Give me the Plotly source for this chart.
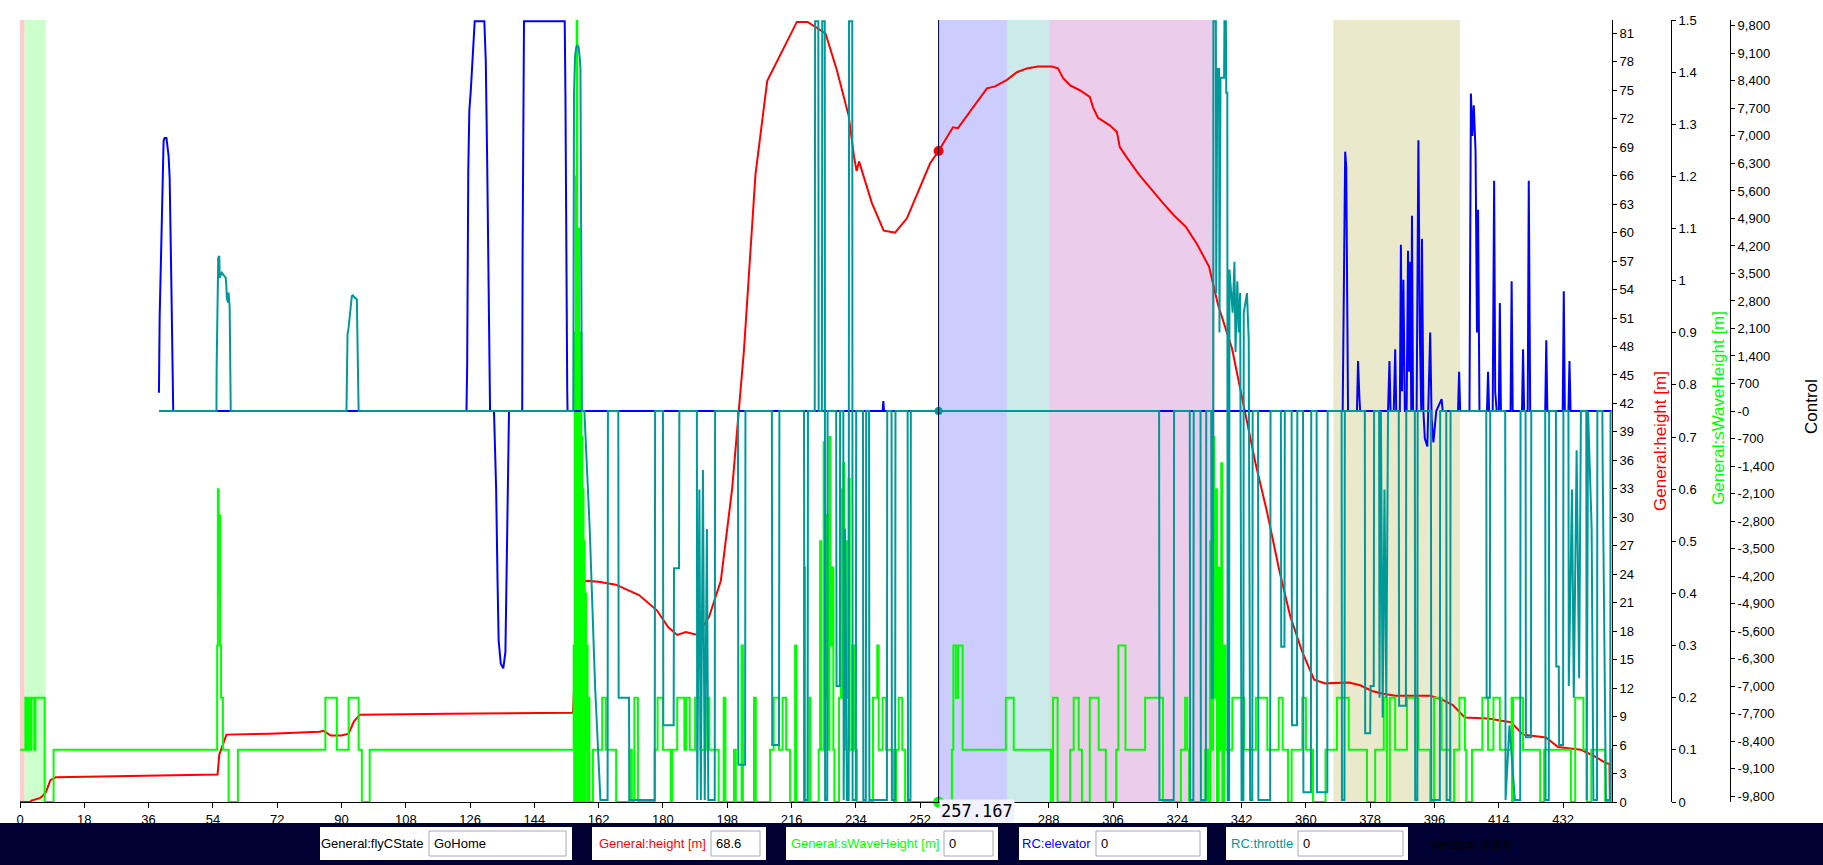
import plotly.graph_objects as go

# ---------------- data ----------------
x_ticks = list(range(0, 433, 18))
height_ticks = list(range(0, 82, 3))
wave_ticks = [i / 10 for i in range(16)]
control_ticks = list(range(-9800, 9801, 700))

cursor_t = 257.167
cursor_height = 68.6
cursor_wave = 0
cursor_elevator = 0
cursor_throttle = 0
fly_state = "GoHome"

# flyCState bands: (start, end, colour)
state_bands = [
    (0.0, 1.3, "#ffcccc"),
    (1.3, 7.2, "#ccffcc"),
    (257.167, 276.3, "#ccccff"),
    (276.3, 288.1, "#cceaea"),
    (288.1, 334.6, "#ebcdeb"),
    (367.7, 403.2, "#eae9cc"),
]

height_pts = [
    (0, 0), (2.8, 0), (3.2, 0.15), (4.6, 0.3), (5.5, 0.4), (6.4, 0.66), (6.9, 0.84), (7.2, 1.0),
    (7.8, 1.6), (8.5, 2.3), (10, 2.6), (30, 2.7), (50, 2.8), (55.3, 2.9), (55.8, 5.0), (57.8, 7.1),
    (70, 7.2), (83.8, 7.4), (85, 7.5), (87, 7.0), (90, 7.0), (92, 7.2), (93.5, 8.5), (95.2, 9.2),
    (120, 9.3), (154.8, 9.4), (155.5, 15.0), (157.0, 23.0), (158.7, 23.3), (162, 23.2), (166.8, 22.9),
    (170, 22.4), (173.3, 21.8), (178.3, 20.2), (181.5, 18.4), (184, 17.6), (186.4, 17.9), (189.7, 17.6),
    (192.9, 19.5), (196.2, 23.3), (199.4, 33.1), (202.7, 47.7), (205.9, 66.1), (209.2, 76.0),
    (214.1, 79.6), (217.5, 82.2), (220.5, 82.2), (225.5, 81.0), (228.7, 77.1), (232.0, 72.3),
    (233.5, 68.0), (234.2, 66.5), (234.9, 67.5), (236.5, 65.5), (238.5, 63.1), (241.8, 60.2),
    (245.0, 60.0), (248.3, 61.5), (251.5, 64.3), (254.8, 67.3), (257.167, 68.6), (261.2, 71.1),
    (262.6, 71.0), (266.2, 72.9), (270.7, 75.2), (273.0, 75.4), (276.3, 76.1), (279.1, 76.9),
    (281.9, 77.3), (285.0, 77.5), (288.9, 77.5), (290.6, 77.3), (292.0, 76.3), (294.0, 75.5),
    (296.7, 75.0), (299.5, 74.3), (300.4, 73.2), (301.8, 72.1), (305.1, 71.3), (307.1, 70.6),
    (307.9, 69.0), (309.9, 67.9), (313.3, 66.1), (320.0, 63.1), (323.1, 61.8), (326.4, 60.6),
    (329.5, 58.8), (332.9, 56.4), (335.4, 52.4), (339.3, 47.8), (342.7, 41.6), (346.0, 35.5),
    (349.1, 30.6), (352.5, 24.5), (355.6, 19.6), (358.9, 15.9), (362.3, 12.9), (365.4, 12.5),
    (372.1, 12.6), (375.2, 12.3), (378.5, 11.7), (381.6, 11.4), (385.0, 11.2), (394.8, 11.2),
    (398.1, 10.8), (401.2, 10.2), (404.5, 8.9), (411.0, 8.8), (417.4, 8.4), (420.8, 7.1),
    (427.2, 6.8), (430.6, 5.8), (437.0, 5.5), (440.4, 4.9), (444.0, 4.1), (445.0, 4.0), (445.1, 0),
]

wave_pts = [
    (0, 0.1), (1.5, 0.2), (2.0, 0.1), (2.3, 0.2), (2.9, 0.1), (3.2, 0.2), (4.0, 0.1), (4.3, 0.2),
    (6.9, 0), (9.4, 0.1), (55.2, 0.3), (55.4, 0.6), (55.6, 0.4), (55.8, 0.55), (56.0, 0.3),
    (56.3, 0.2), (56.8, 0.1), (58.4, 0), (61.0, 0.1), (85.5, 0.2), (88.7, 0.1), (92.0, 0.2),
    (94.8, 0.1), (95.7, 0), (97.9, 0.1),
    (155.0, 0.3), (155.15, 0.0), (155.3, 0.9), (155.45, 0.1), (155.6, 1.2), (155.75, 0.0),
    (155.85, 1.5), (156.0, 0.2), (156.1, 0.8), (156.25, 0.0), (156.4, 1.1), (156.55, 0.1),
    (156.7, 0.75), (156.85, 0.0), (157.0, 0.9), (157.15, 0.1), (157.3, 0.7), (157.45, 0.0),
    (157.6, 0.6), (157.75, 0.1), (157.9, 0.5), (158.1, 0.0), (158.3, 0.4), (158.5, 0.1),
    (158.7, 0.3), (158.9, 0.0), (159.1, 0.2), (159.4, 0.0), (160.4, 0.1),
    (163.0, 0.2), (164.0, 0.1), (166.9, 0), (170.7, 0.1), (171.3, 0), (172.0, 0.2), (173.0, 0),
    (177.7, 0.1), (178.5, 0.2), (180.0, 0.1), (182.2, 0), (182.6, 0.1), (184.0, 0.2), (186.0, 0.1),
    (186.5, 0.2), (187.5, 0.1), (189.0, 0.2), (190.5, 0.1), (192.0, 0.2), (193.0, 0.1), (195.6, 0),
    (197.0, 0.2), (197.5, 0), (199.9, 0.1), (200.4, 0), (202.0, 0.3), (202.4, 0), (205.5, 0.2),
    (206.0, 0), (210.0, 0.1), (211.0, 0.2), (212.5, 0.1), (213.5, 0.2), (214.5, 0.1), (215.6, 0),
    (217.0, 0.3), (217.4, 0), (219.5, 0.45), (219.8, 0), (221.0, 0.2), (221.3, 0), (223.6, 0.1),
    (224.0, 0.5), (224.3, 0.1), (225.0, 0.69), (225.3, 0.2), (225.8, 0.55), (226.1, 0.1),
    (226.6, 0.7), (226.9, 0.3), (227.4, 0.45), (227.7, 0.1), (228.0, 0), (229.3, 0.2), (229.8, 0.6),
    (230.1, 0.2), (230.5, 0.65), (230.8, 0.1), (231.2, 0.5), (231.5, 0.2), (232.0, 0.62),
    (232.3, 0.1), (233.0, 0.3), (233.5, 0.1), (234.3, 0), (238.8, 0.2), (240.0, 0.3), (240.4, 0.1),
    (241.5, 0.2), (242.5, 0.1), (244.6, 0), (245.3, 0.1), (246.0, 0.2), (247.0, 0.1), (247.8, 0),
    (260.9, 0.1), (261.3, 0.3), (262.0, 0.2), (262.6, 0.3), (263.9, 0.1), (276.0, 0.2), (278.2, 0.1),
    (288.6, 0), (289.2, 0.2), (290.5, 0), (294.0, 0.1), (295.0, 0.2), (296.4, 0.1), (297.3, 0),
    (299.5, 0.2), (302.0, 0.1), (304.0, 0), (306.9, 0.1), (307.5, 0.3), (309.5, 0.1), (315.0, 0.2),
    (320.0, 0), (325.0, 0.1), (326.2, 0.2), (326.8, 0.1), (327.3, 0), (331.8, 0.1), (332.6, 0),
    (333.2, 0.5), (333.5, 0.1), (334.0, 0.7), (334.3, 0.2), (334.8, 0.6), (335.1, 0), (335.6, 0.45),
    (335.9, 0.1), (336.3, 0.65), (336.6, 0), (337.1, 0.3), (337.5, 0.1), (339.4, 0.2), (342.7, 0.1),
    (346.0, 0.2), (349.2, 0.1), (352.4, 0.2), (353.5, 0.1), (355.0, 0), (356.0, 0.1), (359.0, 0.2),
    (360.0, 0.1), (362.0, 0), (365.5, 0.1), (368.7, 0.2), (372.0, 0.1), (377.1, 0), (379.4, 0.1),
    (381.8, 0.2), (382.7, 0), (383.5, 0.2), (385.0, 0.1), (388.3, 0.2), (391.5, 0.1), (394.8, 0),
    (395.9, 0.2), (398.0, 0.1), (400.4, 0), (401.5, 0.1), (403.0, 0.2), (404.5, 0.1), (404.9, 0),
    (406.5, 0.1), (409.4, 0.2), (411.0, 0.1), (412.5, 0.2), (414.3, 0.1), (417.6, 0.2), (417.7, 0),
    (418.0, 0.2), (420.8, 0.1), (425.6, 0), (426.7, 0.1), (434.2, 0), (435.4, 0.2), (437.7, 0.1),
    (438.7, 0), (439.9, 0.1), (443.8, 0), (445.4, 0.1), (445.7, 0.1),
]

elevator_pts = [
    (38.9, 466), (39.1, 2392), (39.7, 4810), (40.0, 6160), (40.2, 6870), (40.5, 6950), (41.0, 6950),
    (41.6, 6490), (41.9, 5930), (42.3, 3665), (42.8, 254), (42.9, 0),
    (125.0, 0), (125.2, 1230), (125.5, 6134), (125.8, 7660), (126.2, 8145), (126.5, 8700),
    (126.8, 9340), (127.1, 9875), (127.3, 9920), (130.0, 9920), (130.4, 8908), (130.8, 6287),
    (131.2, 2214), (131.5, 509), (131.6, 0),
    (132.7, 0), (133.3, -1985), (133.7, -4350), (134.0, -5840), (134.6, -6430), (135.3, -6550),
    (135.9, -6130), (136.2, -4350), (136.6, -1390), (136.9, 0),
    (140.6, 0), (140.7, 4030), (141.1, 9920), (152.5, 9920), (152.7, 8060), (152.9, 3266),
    (153.2, 509), (153.3, 0),
    (241.5, 0), (241.7, 250), (241.9, 0),
    (370.3, 0), (370.6, 3000), (371.0, 6600), (371.3, 6200), (371.6, 2000), (371.8, 0),
    (374.3, 0), (374.6, 1270), (375.0, 300), (375.2, 0),
    (383.0, 0), (383.4, 1270), (383.7, 0), (384.6, 0), (385.0, 1570), (385.3, 0), (386.3, 0),
    (386.6, 4230), (386.9, 500), (387.3, 3340), (387.7, 0), (388.2, 0), (388.6, 4080), (388.9, 1000),
    (389.2, 3800), (389.5, 0), (389.7, 4970), (390.0, 0), (391.0, 0), (391.5, 6890), (391.9, 2000),
    (392.3, 0), (392.5, 4380), (392.9, 0), (393.3, -700), (394.0, -900), (394.8, 2000), (395.2, -200),
    (395.7, -800), (396.5, 0), (398.0, 300), (398.3, 0),
    (402.6, 0), (402.9, 1000), (403.2, 0),
    (405.8, 0), (406.2, 8080), (406.6, 7000), (407.0, 7780), (407.5, 6600), (407.9, 2000),
    (408.2, 5120), (408.6, 0), (410.7, 0), (411.0, 1000), (411.3, 0), (412.3, 0), (412.7, 5860),
    (413.0, 500), (413.4, 0), (414.0, 0), (414.3, 2750), (414.6, 0), (417.3, 0), (417.6, 3300),
    (417.9, 0), (420.5, 0), (420.8, 1570), (421.1, 0), (422.1, 0), (422.4, 5860), (422.8, 0),
    (427.0, 0), (427.3, 1800), (427.6, 0), (431.9, 0), (432.2, 3050), (432.5, 0), (433.5, 0),
    (433.8, 1270), (434.1, 0), (445.6, 0),
]

throttle_pts = [
    (38.9, 0), (55.0, 0), (55.05, 1100), (55.4, 3283), (55.5, 3900), (55.8, 3945), (55.9, 3393),
    (56.5, 3520), (57.6, 3390), (57.8, 3138), (57.9, 2884), (58.2, 2757), (58.4, 3011), (58.7, 2630),
    (59.0, 0),
    (91.4, 0), (91.45, 552), (91.7, 1952), (92.0, 2120), (92.3, 2461), (92.6, 2757), (92.9, 2927),
    (93.2, 2945), (93.7, 2884), (94.3, 2843), (94.6, 1527), (94.8, 0),
    (154.9, 0), (154.95, 2120), (155.1, 8060), (155.4, 9035), (155.7, 9247), (156.1, 9307),
    (156.4, 9247), (156.7, 8993), (156.9, 8738), (157.1, 4665), (157.3, 0),
    (158.0, 0), (159.5, -3000), (161.0, -7000), (162.5, -9900), (164.5, -9900), (164.6, 0),
    (167.5, 0), (167.6, -7300), (170.5, -7300), (170.6, -9900), (177.7, -9900), (177.8, 0),
    (180.0, 0), (180.1, -8000), (183.0, -8000), (183.1, -4000), (184.5, -4000), (184.6, 0),
    (189.5, 0), (189.6, -9900), (190.2, -2000), (190.6, -9900), (191.2, -1500), (191.7, -9900),
    (192.3, -3000), (192.7, -9900), (194.5, -9900), (194.6, 0),
    (201.0, 0), (201.1, -9000), (203.0, -9000), (203.1, 0),
    (210.5, 0), (210.6, -8500), (212.5, -8500), (212.6, 0),
    (219.5, 0), (219.6, -9900), (220.5, -9900), (220.6, 0),
    (222.5, 0), (222.6, 9920), (223.5, 9920), (223.6, 0), (224.5, 0), (224.6, 9920), (225.3, 9920),
    (225.4, -9900), (226.0, -9900), (226.1, 0),
    (228.5, 0), (228.6, -7000), (229.5, -7000), (229.6, 0), (230.5, 0), (230.6, -9900),
    (231.0, -3000), (231.5, -9900), (232.0, -9900), (232.1, 9920), (233.0, 9920), (233.1, -9900),
    (234.0, -9900), (234.1, 0),
    (236.0, 0), (236.1, -9900), (236.8, -9900), (236.9, 0), (237.7, 0), (237.8, -9900),
    (242.7, -9900), (242.8, 0), (244.0, 0), (244.1, -9900), (245.0, -9900), (245.1, 0),
    (248.5, 0), (248.6, -9900), (249.3, -9900), (249.4, 0),
    (318.9, 0), (319.0, -9900), (323.0, -9900), (323.1, 0), (327.5, 0), (327.6, -9900),
    (328.5, -9900), (328.6, 0), (330.5, 0), (330.6, -9900), (332.0, -9900), (332.1, 0),
    (333.5, 0), (333.6, -7300), (334.0, -7300), (334.1, 9920), (334.8, 9920), (334.9, 3000),
    (335.2, 8700), (335.7, 8700), (335.8, 2000), (336.1, 8480), (337.1, 8480), (337.2, 9920),
    (337.6, 9920), (337.7, 8100), (338.0, 8100), (338.1, -9900), (338.5, -9900), (338.6, 3600),
    (339.5, 2500), (340.0, 3800), (340.3, 1500), (340.8, 3300), (341.2, 2000), (341.6, 3000),
    (342.0, -9900), (342.5, -9900), (342.6, 2500), (343.5, 3000), (344.0, 1800), (344.4, -9900),
    (345.0, -9900), (345.1, 0),
    (346.6, 0), (346.7, -9900), (350.0, -9900), (350.1, 0), (353.0, 0), (353.1, -6000),
    (354.0, -6000), (354.1, 0), (356.0, 0), (356.1, -8000), (357.5, -8000), (357.6, 0),
    (359.2, 0), (359.3, -9700), (361.4, -9700), (361.5, 0), (363.0, 0), (363.1, -9700),
    (366.0, -9700), (366.1, 0),
    (370.0, 0), (370.1, -9900), (370.8, -9900), (370.9, 0), (376.5, 0), (376.6, -8200),
    (378.0, -8200), (378.1, -7000), (379.0, -7000), (379.1, 0), (380.5, 0), (380.6, -7300),
    (381.0, 0), (381.5, -7800), (382.0, -2000), (382.5, -7300), (383.0, 0), (386.0, 0),
    (386.1, -7500), (388.0, -7500), (388.1, 0), (390.5, 0), (390.6, -9900), (391.2, -9900),
    (391.3, 0), (395.0, 0), (395.1, -9900), (397.5, -9900), (397.6, 0), (399.3, 0), (399.4, -9900),
    (400.4, -9900), (400.5, 0),
    (410.5, 0), (410.6, -7300), (411.5, -7300), (411.6, 0), (415.8, 0), (415.9, -9900),
    (417.0, -8000), (418.5, -9900), (420.0, -9900), (420.1, 0), (421.5, 0), (421.6, -8300),
    (423.0, -8300), (423.1, 0),
    (427.0, 0), (427.1, -9900), (428.0, -9900), (428.1, 0), (430.0, 0), (430.1, -6500),
    (430.8, -6500), (430.9, -8500), (432.0, -8500), (432.1, 0), (433.5, 0), (433.6, -7000),
    (434.5, -2000), (435.0, -7300), (435.8, -1000), (436.5, -6800), (437.0, 0), (438.5, 0),
    (438.6, -9900), (439.0, 0), (440.0, -3000), (440.5, -9900), (441.5, -9900), (441.6, 0),
    (443.0, 0), (443.1, -1500), (444.0, -9900), (445.2, -9900), (445.3, 0),
]

# ---------------- layout geometry ----------------
W, H = 1823, 865
ML, MR, MT, MB = 20, 0, 20, 63
PW = W - ML - MR
PH = H - MT - MB
PLOT_RIGHT = 1612


def pxp(x):
    return (x - ML) / PW


def pyp(y):
    return (H - MB - y) / PH


def unzip(pts):
    return [p[0] for p in pts], [p[1] for p in pts]


RED = "#ff0000"
GREEN = "#00ff00"
BLUE = "#0000ff"
TEAL = "#009999"
FONT = "Liberation Sans"

fig = go.Figure()

t, v = unzip(elevator_pts)
fig.add_trace(go.Scatter(x=t, y=v, yaxis="y3", mode="lines", line=dict(color=BLUE, width=2)))
t, v = unzip(throttle_pts)
fig.add_trace(go.Scatter(x=t, y=v, yaxis="y3", mode="lines", line=dict(color=TEAL, width=2)))
t, v = unzip(wave_pts)
fig.add_trace(go.Scatter(x=t, y=v, yaxis="y2", mode="lines", line=dict(color=GREEN, width=2, shape="hv")))
t, v = unzip(height_pts)
fig.add_trace(go.Scatter(x=t, y=v, yaxis="y", mode="lines", line=dict(color=RED, width=2)))

# cursor markers
fig.add_trace(go.Scatter(x=[cursor_t], y=[cursor_throttle], yaxis="y3", mode="markers",
                         marker=dict(color=TEAL, size=8), cliponaxis=False))
fig.add_trace(go.Scatter(x=[cursor_t], y=[cursor_height], yaxis="y", mode="markers",
                         marker=dict(color=RED, size=10), cliponaxis=False))
fig.add_trace(go.Scatter(x=[cursor_t], y=[cursor_wave], yaxis="y2", mode="markers",
                         marker=dict(color=GREEN, size=11), cliponaxis=False))

shapes = []
for x0, x1, col in state_bands:
    shapes.append(dict(type="rect", xref="x", yref="paper", x0=x0, x1=x1, y0=0, y1=1,
                       fillcolor=col, line=dict(width=0), layer="below"))
shapes.append(dict(type="line", xref="x", yref="paper", x0=cursor_t, x1=cursor_t, y0=0, y1=1,
                   line=dict(color="#000040", width=1), layer="above"))

# bottom status bar
shapes.append(dict(type="rect", xref="paper", yref="paper", x0=pxp(0), x1=pxp(W), y0=pyp(H), y1=pyp(823),
                   fillcolor="#000033", line=dict(width=0), layer="above"))

boxes = [
    ("General:flyCState", "black", fly_state, 320, 572, 429, 566),
    ("General:height [m]", RED, f"{cursor_height}", 592, 766, 711, 760),
    ("General:sWaveHeight [m]", GREEN, f"{cursor_wave}", 786, 998, 944, 993),
    ("RC:elevator", BLUE, f"{cursor_elevator}", 1019, 1207, 1096, 1200),
    ("RC:throttle", TEAL, f"{cursor_throttle}", 1226, 1408, 1298, 1403),
]
annotations = []
ymid = pyp(843.5)
for label, col, val, bx0, bx1, fx0, fx1 in boxes:
    shapes.append(dict(type="rect", xref="paper", yref="paper", x0=pxp(bx0), x1=pxp(bx1),
                       y0=pyp(860), y1=pyp(827), fillcolor="white", line=dict(width=0), layer="above"))
    shapes.append(dict(type="rect", xref="paper", yref="paper", x0=pxp(fx0), x1=pxp(fx1),
                       y0=pyp(856), y1=pyp(831), fillcolor="white",
                       line=dict(color="#aaaaaa", width=1), layer="above"))
    annotations.append(dict(xref="paper", yref="paper", x=pxp(fx0 - 3), y=ymid, text=label,
                            showarrow=False, xanchor="right", yanchor="middle",
                            font=dict(family=FONT, size=13, color=col)))
    annotations.append(dict(xref="paper", yref="paper", x=pxp(fx0 + 3), y=ymid, text=val,
                            showarrow=False, xanchor="left", yanchor="middle",
                            font=dict(family=FONT, size=13, color="black")))
annotations.append(dict(xref="paper", yref="paper", x=pxp(1428), y=ymid, text="Version 3.6.6",
                        showarrow=False, xanchor="left", yanchor="middle",
                        font=dict(family=FONT, size=14, color="#000000")))

# cursor value label
annotations.append(dict(xref="x", yref="paper", x=cursor_t, y=pyp(811), text=f"{cursor_t}",
                        showarrow=False, xanchor="left", yanchor="middle", bgcolor="#f2f2ff",
                        borderpad=1, font=dict(family="DejaVu Sans Mono", size=17, color="black")))

# axis titles
annotations.append(dict(xref="paper", yref="paper", x=pxp(1660), y=pyp(441), text="General:height [m]",
                        showarrow=False, textangle=-90, xanchor="center", yanchor="middle",
                        font=dict(family=FONT, size=17, color=RED)))
annotations.append(dict(xref="paper", yref="paper", x=pxp(1718), y=pyp(408), text="General:sWaveHeight [m]",
                        showarrow=False, textangle=-90, xanchor="center", yanchor="middle",
                        font=dict(family=FONT, size=17, color=GREEN)))
annotations.append(dict(xref="paper", yref="paper", x=pxp(1811), y=pyp(407), text="Control",
                        showarrow=False, textangle=-90, xanchor="center", yanchor="middle",
                        font=dict(family=FONT, size=17, color="black")))

tickfont = dict(family=FONT, size=13, color="black")
axis_common = dict(showgrid=False, zeroline=False, showline=True, linecolor="black", linewidth=1,
                   ticks="outside", ticklen=4, tickcolor="black", tickfont=tickfont)


def fmt_control(v):
    if v == 0:
        return "-0"
    return f"{v:,}"


# the cursor value label hides the tick label that lies under it
x_ticktext = ["" if cursor_t < xt < cursor_t + 20 else str(xt) for xt in x_ticks]

fig.update_layout(
    width=W, height=H,
    margin=dict(l=ML, r=MR, t=MT, b=MB),
    paper_bgcolor="white", plot_bgcolor="white",
    showlegend=False,
    xaxis=dict(domain=[0, pxp(PLOT_RIGHT)], range=[0, 445.7], tickvals=x_ticks, ticktext=x_ticktext,
               **{**axis_common, "ticklen": 5}),
    yaxis=dict(range=[0, 82.4], side="right", anchor="x", tickvals=height_ticks, **axis_common),
    yaxis2=dict(range=[0, 1.5], side="right", overlaying="y", anchor="free", position=pxp(1671),
                tickvals=wave_ticks, ticktext=[f"{w:g}" for w in wave_ticks], **axis_common),
    yaxis3=dict(range=[-9950, 9950], side="right", overlaying="y", anchor="free", position=pxp(1730),
                tickvals=control_ticks, ticktext=[fmt_control(c) for c in control_ticks], **axis_common),
    shapes=shapes,
    annotations=annotations,
)

fig.write_html("out.html")
